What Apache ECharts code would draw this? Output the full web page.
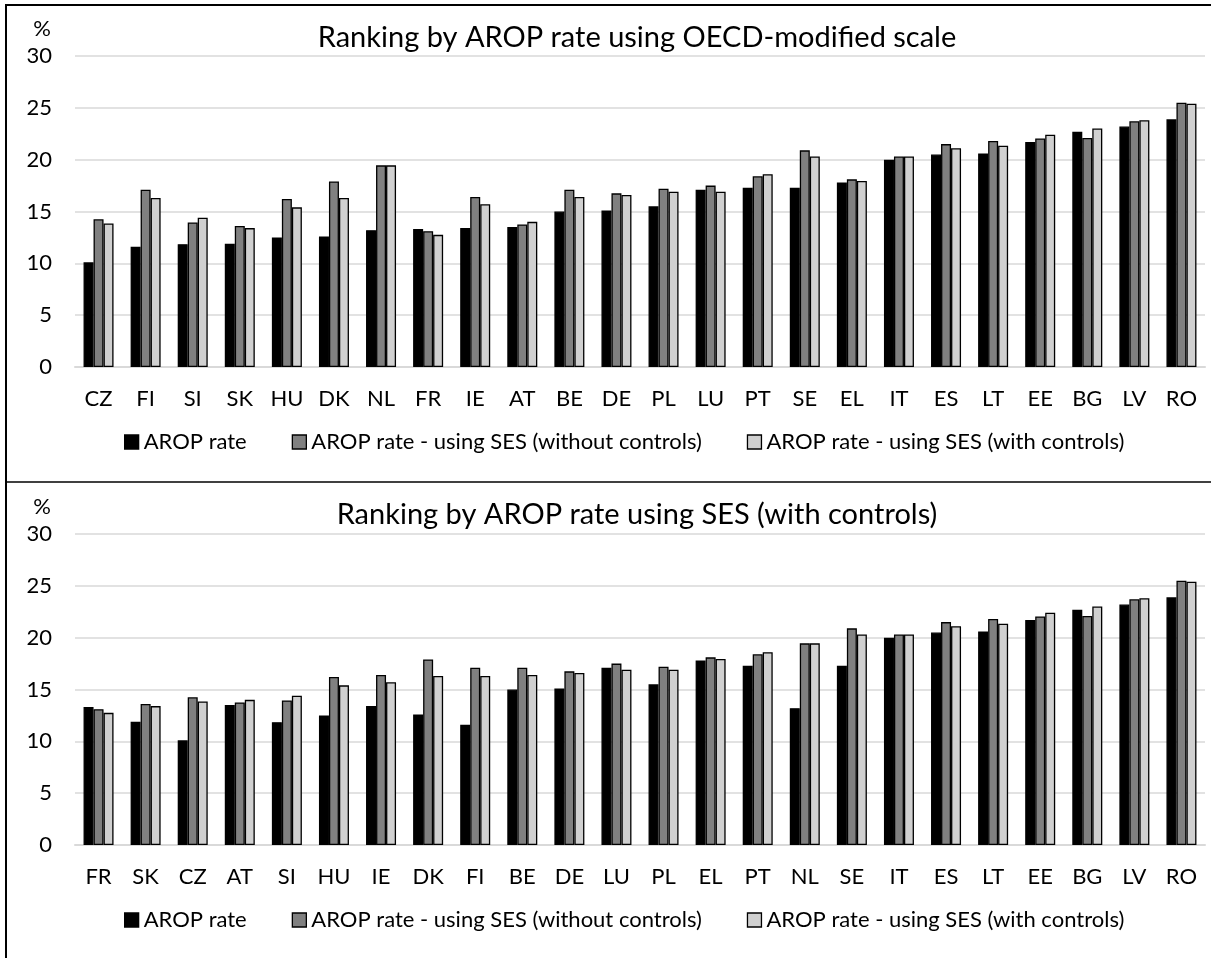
<!DOCTYPE html>
<html>
<head>
<meta charset="utf-8">
<script src="https://cdn.jsdelivr.net/npm/echarts@6/dist/echarts.min.js"></script>
<style>
html,body{margin:0;padding:0;background:#fff;}
#chart{width:1211px;height:958px;}
</style>
</head>
<body>
<div id="chart"></div>
<script>
// Countries ranked by AROP rate (OECD-modified scale)
const countries = ['CZ','FI','SI','SK','HU','DK','NL','FR','IE','AT','BE','DE','PL','LU','PT','SE','EL','IT','ES','LT','EE','BG','LV','RO'];
const aropRate =          [10.1,11.6,11.85,11.9,12.5,12.6,13.2,13.3,13.4,13.5,15.0,15.1,15.5,17.1,17.3,17.3,17.8,20.0,20.5,20.6,21.7,22.7,23.2,23.9];
const sesWithoutControls = [14.25,17.1,13.95,13.6,16.2,17.9,19.45,13.1,16.4,13.75,17.1,16.75,17.2,17.5,18.4,20.9,18.1,20.3,21.5,21.8,22.05,22.1,23.7,25.5];
const sesWithControls =    [13.85,16.3,14.4,13.4,15.4,16.3,19.45,12.75,15.7,14.0,16.4,16.6,16.9,16.9,18.6,20.3,17.95,20.3,21.1,21.35,22.4,23.0,23.8,25.4];
// Countries ranked by AROP rate using SES (with controls)
const countriesBySES = ['FR','SK','CZ','AT','SI','HU','IE','DK','FI','BE','DE','LU','PL','EL','PT','NL','SE','IT','ES','LT','EE','BG','LV','RO'];
const yTicks = [0,5,10,15,20,25,30];

const seriesNames = ['AROP rate','AROP rate - using SES (without controls)','AROP rate - using SES (with controls)'];
const seriesColors = ['#000000','#808080','#d0d0d0'];
const topValues = [aropRate, sesWithoutControls, sesWithControls];
const bottomValues = topValues.map(arr => countriesBySES.map(c => arr[countries.indexOf(c)]));

const FONT = 'Lato';
const txt = {fontFamily: FONT, color: '#000'};

function makeX(idx, cats){
  return {
    type:'category', gridIndex: idx, data: cats,
    axisLine:{show:true, lineStyle:{color:'#d9d9d9', width:2}},
    axisTick:{show:false},
    axisLabel:Object.assign({fontSize:22, margin:21, interval:0}, txt)
  };
}
function makeY(idx){
  return {
    type:'value', gridIndex: idx, min:yTicks[0], max:yTicks[yTicks.length-1], interval:5,
    name:'%', nameLocation:'end', nameGap:16,
    nameTextStyle:Object.assign({fontSize:22, align:'right', padding:[0,24,0,0]}, txt),
    axisLine:{show:false}, axisTick:{show:false},
    axisLabel:Object.assign({fontSize:22, margin:23}, txt),
    splitLine:{show:true, lineStyle:{color:'#d9d9d9', width:1.5}}
  };
}
function makeSeries(idx, values){
  return values.map((v,i)=>({
    type:'bar', name:seriesNames[i], xAxisIndex:idx, yAxisIndex:idx, data:v,
    barWidth:10, barGap:'0%',
    itemStyle:{color:seriesColors[i], borderColor:'#000', borderWidth:1.3},
    emphasis:{disabled:true}
  }));
}
function makeLegend(top){
  return {
    top:top, left:124, padding:0, itemGap:45, itemWidth:14, itemHeight:14, icon:'rect',
    data:seriesNames,
    itemStyle:{borderColor:'#000', borderWidth:1.3},
    textStyle:Object.assign({fontSize:22}, txt)
  };
}

const chart = echarts.init(document.getElementById('chart'), null, {renderer:'canvas'});
chart.setOption({
  animation:false,
  backgroundColor:'#fff',
  title:[
    {text:'Ranking by AROP rate using OECD-modified scale', left:637, top:23, textAlign:'center', padding:0,
     textStyle:Object.assign({fontSize:29, fontWeight:'normal'}, txt)},
    {text:'Ranking by AROP rate using SES (with controls)', left:637, top:500, textAlign:'center', padding:0,
     textStyle:Object.assign({fontSize:29, fontWeight:'normal'}, txt)}
  ],
  legend:[makeLegend(431), makeLegend(909)],
  grid:[
    {left:75, right:6, top:56, height:311},
    {left:75, right:6, top:534, height:311}
  ],
  xAxis:[makeX(0, countries), makeX(1, countriesBySES)],
  yAxis:[makeY(0), makeY(1)],
  series:[].concat(makeSeries(0, topValues), makeSeries(1, bottomValues)),
  graphic:[
    {type:'line', shape:{x1:5, y1:5, x2:1211, y2:5}, style:{stroke:'#000', lineWidth:2}, silent:true},
    {type:'line', shape:{x1:6, y1:5, x2:6, y2:958}, style:{stroke:'#000', lineWidth:2}, silent:true},
    {type:'line', shape:{x1:5, y1:482, x2:1211, y2:482}, style:{stroke:'#000', lineWidth:1.5}, silent:true}
  ]
});
</script>
</body>
</html>
